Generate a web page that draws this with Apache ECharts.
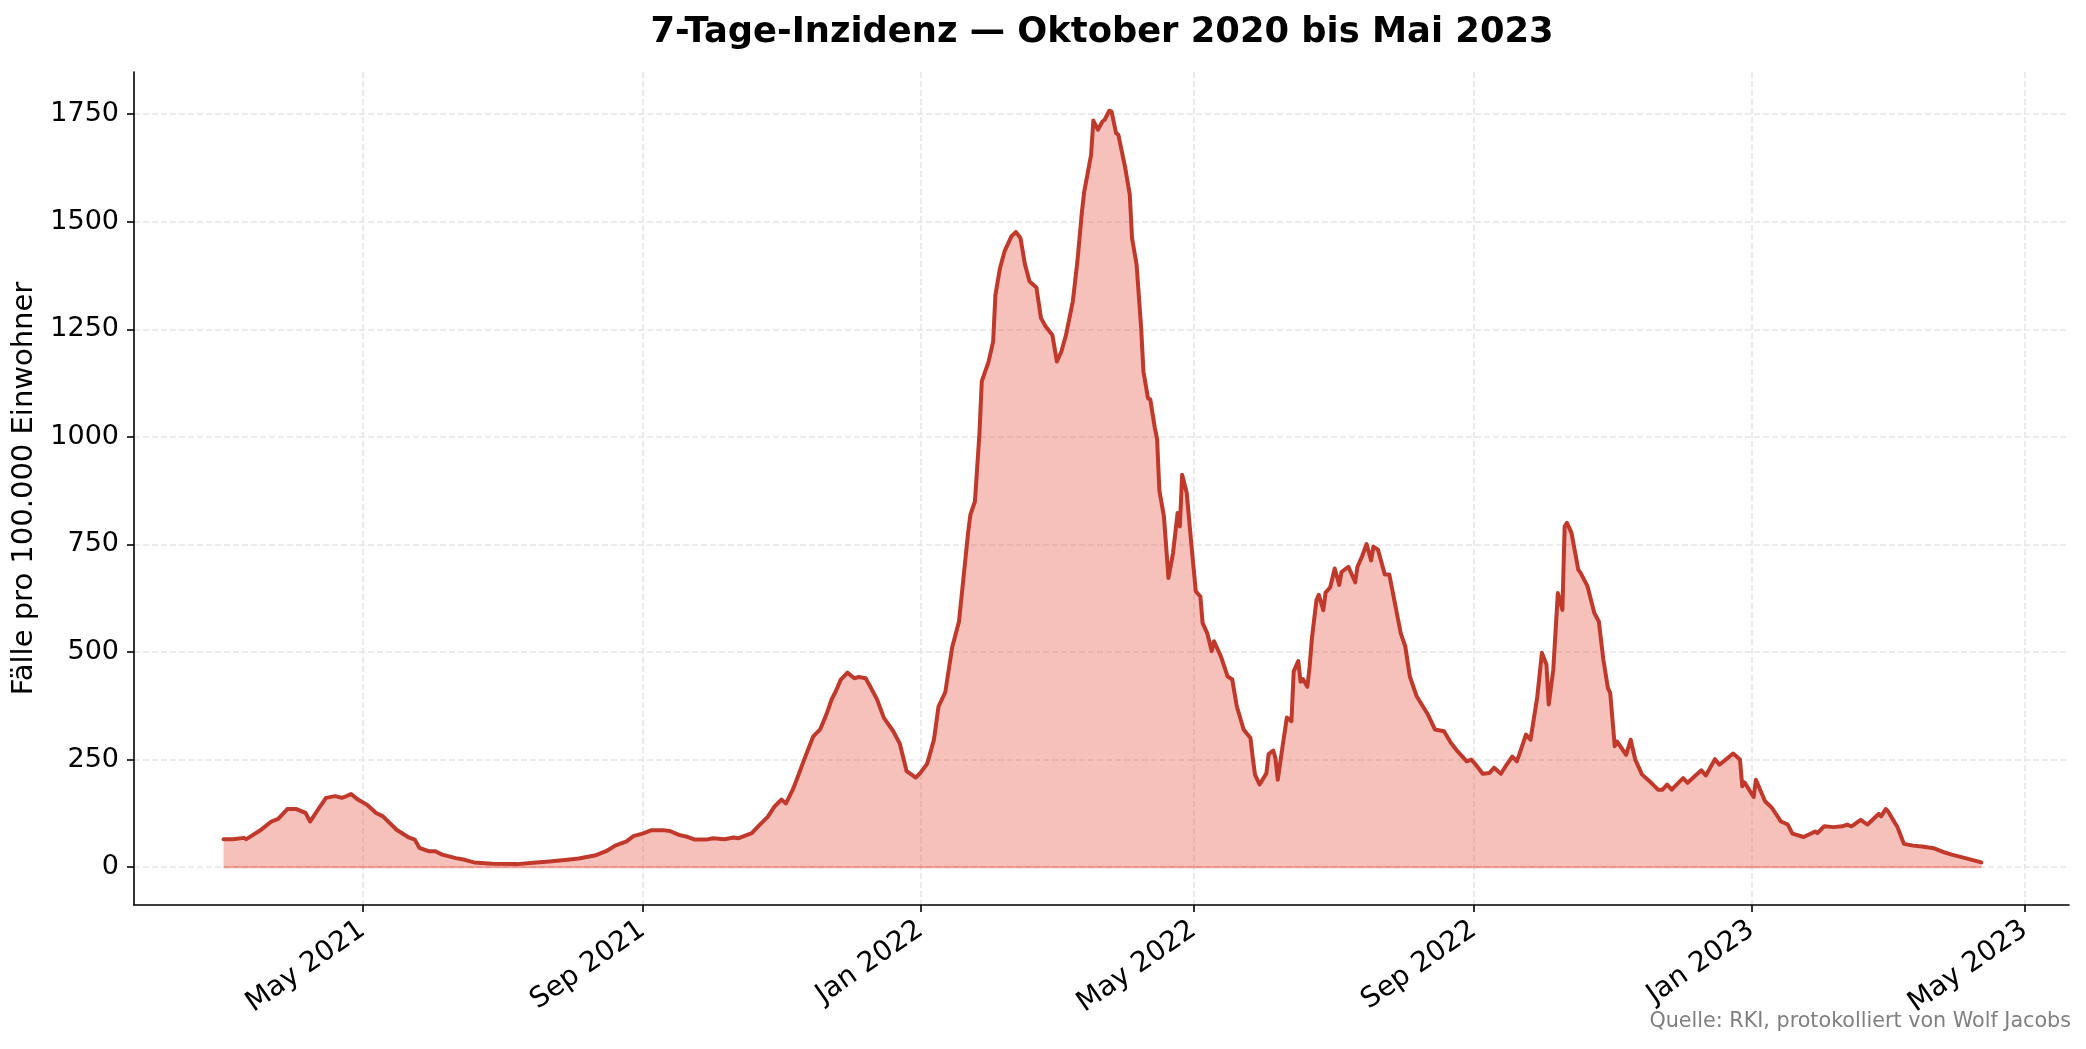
<!DOCTYPE html>
<html>
<head>
<meta charset="utf-8">
<script src="https://cdn.jsdelivr.net/npm/echarts@6/dist/echarts.min.js"></script>
<style>
html,body{margin:0;padding:0;background:#fff;}
#chart{width:2086px;height:1049px;}
</style>
</head>
<body>
<div id="chart"></div>
<script>
// ---- data ----
const startDate = '2021-03-01';           // day 0 of dayOffsets
const dayOffsets = [
  0,4,9,10,16,21,24,28,32,36,38,42,45,49,52,54,56,59,63,67,70,76,81,84,86,90,93,96,
  102,106,110,118,129,136,143,151,156,163,168,172,177,180,184,188,193,196,200,204,207,
  212,215,220,224,226,232,235,239,242,245,247,250,252,255,259,262,265,267,269,271,274,
  277,279,282,284,287,290,294,297,300,304,306,309,312,314,317,320,323,325,327,328,330,
  332,333,336,338,339,341,343,346,348,350,352,354,357,359,361,364,366,368,370,373,375,
  377,378,381,382,384,386,387,389,390,392,393,396,398,399,401,403,404,406,407,409,410,
  411,413,415,417,419,420,421,423,425,427,429,430,432,434,435,438,441,443,445,448,451,
  452,453,455,458,459,461,462,463,465,467,469,470,472,473,474,476,477,478,480,481,483,
  484,486,488,490,491,494,497,498,500,502,504,505,507,510,512,515,517,519,521,524,529,
  532,536,539,542,546,548,550,553,556,558,561,563,566,568,569,572,574,577,579,581,582,
  584,586,588,589,590,592,595,596,599,602,604,606,608,609,611,612,616,618,620,623,627,
  630,632,634,636,641,643,649,651,655,657,663,666,667,668,672,673,677,680,684,687,689,
  694,699,700,703,707,711,713,715,719,722,727,728,730,731,734,735,738,742,746,751,756,
  759,765,772
];
const incidence = [
  65,65,68,65,85,106,112,135,135,126,106,138,161,165,161,165,170,157,145,126,118,87,70,64,45,37,37,29,
  21,17,11,8,7,10,13,17,20,27,37,50,60,72,78,86,86,84,75,70,64,
  64,67,65,69,67,79,96,117,141,157,148,180,207,250,304,320,358,389,410,435,452,
  439,442,439,420,390,347,317,287,223,208,219,240,296,373,407,511,571,674,777,819,850,
  1010,1129,1175,1222,1330,1392,1431,1466,1476,1462,1400,1361,1347,1276,1257,1237,1175,1199,1237,1315,1408,
  1524,1570,1655,1735,1714,1733,1737,1758,1756,1706,1702,1625,1563,1462,1400,1253,1152,1090,1087,1021,995,
  875,815,672,730,823,792,912,870,753,641,629,567,544,502,525,490,443,436,374,320,300,
  255,215,192,218,263,271,253,203,277,348,339,455,479,431,437,419,467,532,621,633,597,
  638,650,694,656,686,698,662,698,722,751,713,745,738,680,680,598,544,513,443,397,354,
  320,316,289,269,246,250,238,217,219,231,217,234,257,246,261,308,296,397,498,471,378,
  459,637,598,792,800,777,691,684,653,591,571,482,416,405,281,292,261,296,250,215,196,
  180,180,192,180,207,196,225,213,251,238,264,250,188,197,163,203,153,138,106,99,78,
  70,83,79,95,93,95,99,95,110,99,124,118,135,130,103,95,54,50,48,44,34,
  29,21,11
];
const tickDates  = ['2021-05-01','2021-09-01','2022-01-01','2022-05-01','2022-09-01','2023-01-01','2023-05-01'];
const tickLabels = ['May 2021','Sep 2021','Jan 2022','May 2022','Sep 2022','Jan 2023','May 2023'];
const yTicks = [0,250,500,750,1000,1250,1500,1750];
const titleText = '7-Tage-Inzidenz \u2014 Oktober 2020 bis Mai 2023';
const yLabel = 'F\u00e4lle pro 100.000 Einwohner';
const sourceText = 'Quelle: RKI, protokolliert von Wolf Jacobs';

// ---- build ----
const DAY = 86400000;
const base = Date.parse(startDate);
const seriesData = dayOffsets.map((d, i) => [base + d * DAY, incidence[i]]);
const tickValues = tickDates.map(s => Date.parse(s));
const xMin = Date.parse('2021-01-20T16:00:00Z');
const xMax = Date.parse('2023-05-20T12:00:00Z');
const FONT = "'DejaVu Sans', sans-serif";

const chart = echarts.init(document.getElementById('chart'), null, {renderer: 'canvas'});
chart.setOption({
  animation: false,
  backgroundColor: '#ffffff',
  title: {
    text: titleText,
    left: 1097, top: 10, textAlign: 'center',
    textStyle: {fontFamily: FONT, fontSize: 35.3, fontWeight: 'bold', color: '#000'}
  },
  grid: {left: 134, right: 17, top: 72, bottom: 144, containLabel: false, outerBoundsMode: 'none'},
  xAxis: {
    type: 'value', min: xMin, max: xMax, scale: true,
    axisLine: {onZero: false, lineStyle: {color: '#000', width: 1.6}},
    axisTick: {show: true, length: 7, customValues: tickValues, lineStyle: {color: '#000', width: 1.6}},
    axisLabel: {
      customValues: tickValues, rotate: 35, margin: 22,
      fontFamily: FONT, fontSize: 28, color: '#000',
      formatter: function (v) { const i = tickValues.indexOf(v); return i >= 0 ? tickLabels[i] : ''; }
    },
    splitLine: {show: true, lineStyle: {color: '#e6e6e6', width: 1.6, type: [6, 3]}}
  },
  yAxis: {
    type: 'value', min: -88, max: 1848,
    name: yLabel, nameLocation: 'middle', nameGap: 81,
    nameTextStyle: {fontFamily: FONT, fontSize: 29, color: '#000'},
    axisLine: {show: true, lineStyle: {color: '#000', width: 1.6}},
    axisTick: {show: true, length: 7, customValues: yTicks, lineStyle: {color: '#000', width: 1.6}},
    axisLabel: {
      customValues: yTicks, margin: 15, fontFamily: FONT, fontSize: 27, color: '#000',
      formatter: function (v) { return String(v); }
    },
    splitLine: {show: true, lineStyle: {color: '#e6e6e6', width: 1.6, type: [6, 3]}}
  },
  graphic: [{
    type: 'text', right: 15, top: 1011,
    style: {text: sourceText, fontFamily: FONT, fontSize: 20.7, fill: '#808080'}
  }],
  series: [
    {
      type: 'line', name: 'baseline', silent: true, symbol: 'none', z: 2,
      data: [[seriesData[0][0], 0], [seriesData[seriesData.length - 1][0], 0]],
      lineStyle: {color: 'rgba(231,76,60,0.45)', width: 2}
    },
    {
      type: 'line', name: '7-Tage-Inzidenz', data: seriesData, symbol: 'none', z: 3,
      lineStyle: {color: '#c0392b', width: 4, join: 'round', cap: 'round'},
      areaStyle: {color: 'rgba(231,76,60,0.35)', opacity: 1, origin: 0}
    }
  ]
});
</script>
</body>
</html>
